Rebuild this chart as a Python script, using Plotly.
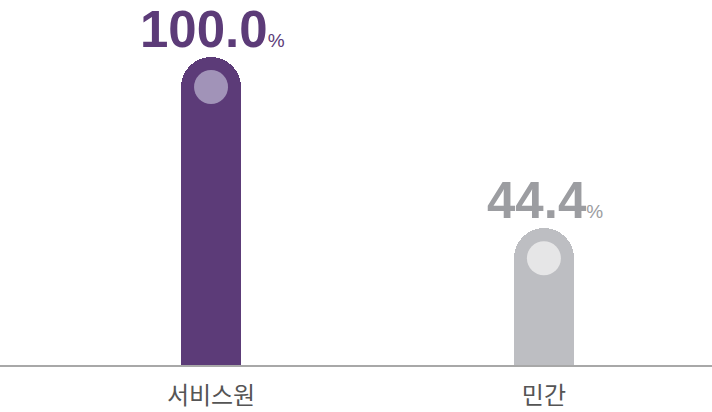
import plotly.graph_objects as go

# data
categories = ["서비스원", "민간"]
values = [100.0, 44.4]
bar_colors = ["#5c3b78", "#bdbec2"]
dot_colors = ["#a193b8", "#e6e6e7"]
text_colors = ["#5c3b78", "#9c9da1"]

# layout numbers
plot_h = 365
y_max = 118.5
cap_px = 30
dot_offset = cap_px * y_max / plot_h

fig = go.Figure()

fig.add_trace(go.Bar(
    x=categories,
    y=values,
    width=0.18,
    marker=dict(color=bar_colors, cornerradius=cap_px, line=dict(width=0)),
    cliponaxis=False,
    hoverinfo="skip",
))

fig.add_trace(go.Scatter(
    x=categories,
    y=[v - dot_offset for v in values],
    mode="markers",
    marker=dict(size=34, color=dot_colors, line=dict(width=0)),
    hoverinfo="skip",
    cliponaxis=False,
))

# value labels: big bold number with a small percent sign
for cat, v, col in zip(categories, values, text_colors):
    fig.add_annotation(
        x=cat, y=v,
        text="<b>%.1f</b><span style='font-size:19px'>%%</span>" % v,
        showarrow=False,
        yanchor="bottom",
        yshift=-3,
        xshift=1,
        font=dict(family="Liberation Sans", size=51, color=col),
    )

fig.update_layout(
    width=712,
    height=412,
    margin=dict(l=0, r=0, t=0, b=47, autoexpand=False),
    plot_bgcolor="white",
    paper_bgcolor="white",
    showlegend=False,
    bargap=0,
)

fig.update_xaxes(
    range=[-0.634, 1.505],
    automargin=False,
    showline=True,
    linecolor="#a8a8a8",
    linewidth=2,
    showgrid=False,
    ticks="",
    ticklabelstandoff=8,
    tickfont=dict(family="Noto Sans CJK KR", size=24, color="#555555"),
)
fig.update_yaxes(range=[0, y_max], visible=False, showgrid=False, automargin=False)

fig.write_html("out.html", config={"displayModeBar": False},
               post_script="document.body.style.margin='0';")
